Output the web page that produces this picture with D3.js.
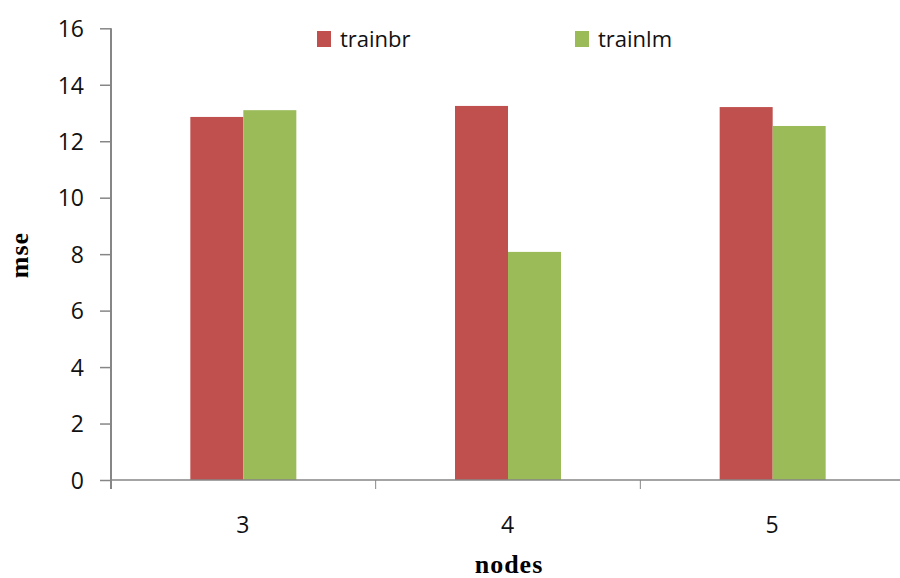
<!DOCTYPE html>
<html>
<head>
<meta charset="utf-8">
<script src="https://cdn.jsdelivr.net/npm/d3@7"></script>
<style>
  html, body { margin: 0; padding: 0; background: #fff; }
  svg { display: block; }
</style>
</head>
<body>
<svg id="chart" width="900" height="578"></svg>
<script>
// Mean squared error per hidden-node count, by training function
const nodes = ["3", "4", "5"];
const seriesNames = ["trainbr", "trainlm"];
const trainbr = [12.86, 13.25, 13.21];
const trainlm = [13.10, 8.08, 12.54];
const yTicks = [0, 2, 4, 6, 8, 10, 12, 14, 16];
const colors = ["#C0504D", "#9BBB59"];

const svg = d3.select("#chart");
const plotLeft = 111, plotRight = 905, plotTop = 28.3, plotBottom = 480;

const x = d3.scaleBand().domain(nodes).range([plotLeft, plotRight]).paddingInner(0).paddingOuter(0);
const x1 = d3.scaleBand().domain(seriesNames).range([0, 106]);
const y = d3.scaleLinear().domain([0, 16]).range([plotBottom, plotTop]);

const rows = nodes.map((n, i) => ({ n, values: [trainbr[i], trainlm[i]] }));
const groupOffset = (x.bandwidth() - 106) / 2;

// Bars
const g = svg.append("g");
g.selectAll("g.grp").data(rows).join("g")
  .attr("class", "grp")
  .attr("transform", d => `translate(${x(d.n) + groupOffset},0)`)
  .selectAll("rect").data(d => d.values.map((v, k) => ({ v, k })))
  .join("rect")
  .attr("x", d => x1(seriesNames[d.k]))
  .attr("width", x1.bandwidth())
  .attr("y", d => y(d.v))
  .attr("height", d => plotBottom - y(d.v))
  .attr("fill", d => colors[d.k]);

const axisColor = "#868686";
const tickFont = "'Open Sans', sans-serif";

// Y axis
const yAxis = svg.append("g").attr("transform", `translate(${plotLeft},0)`)
  .call(d3.axisLeft(y).tickValues(yTicks).tickSize(11).tickPadding(16).tickSizeOuter(0));
yAxis.select(".domain").remove();
yAxis.append("line").attr("x1", 0).attr("x2", 0).attr("y1", plotTop).attr("y2", plotBottom + 9)
  .attr("stroke", axisColor).attr("stroke-width", 2);
yAxis.selectAll(".tick line").attr("stroke", axisColor).attr("stroke-width", 1.5);
yAxis.selectAll(".tick text").attr("fill", "#111").style("font-family", tickFont)
  .style("font-size", "23px").attr("dy", "0.36em");

// X axis
const xAxis = svg.append("g").attr("transform", `translate(0,${plotBottom})`);
xAxis.append("line").attr("x1", plotLeft).attr("x2", plotRight).attr("y1", 0).attr("y2", 0)
  .attr("stroke", axisColor).attr("stroke-width", 1.5);
const boundaries = nodes.map(n => x(n)).concat([x(nodes[nodes.length - 1]) + x.bandwidth()]);
xAxis.selectAll("line.tk").data(boundaries.slice(1)).join("line")
  .attr("class", "tk")
  .attr("x1", d => d).attr("x2", d => d).attr("y1", 0).attr("y2", 9)
  .attr("stroke", axisColor).attr("stroke-width", 1);
xAxis.selectAll("text").data(nodes).join("text")
  .attr("x", d => x(d) + x.bandwidth() / 2 - 0.5)
  .attr("y", 53)
  .attr("text-anchor", "middle")
  .attr("fill", "#111")
  .style("font-family", tickFont).style("font-size", "23px")
  .text(d => d);

// Axis titles
svg.append("text")
  .attr("x", 509).attr("y", 573)
  .attr("text-anchor", "middle")
  .style("font-family", "'Liberation Serif', 'Times New Roman', serif")
  .style("font-weight", "bold").style("font-size", "26px").style("letter-spacing", "1px")
  .text("nodes");

svg.append("text")
  .attr("transform", "translate(28,255) rotate(-90)")
  .attr("text-anchor", "middle")
  .style("font-family", "'Liberation Serif', 'Times New Roman', serif")
  .style("font-weight", "bold").style("font-size", "26px").style("letter-spacing", "1px")
  .text("mse");

// Legend
const legendX = [317, 575];
const legend = svg.append("g");
seriesNames.forEach((name, k) => {
  legend.append("rect").attr("x", legendX[k]).attr("y", 31).attr("width", 14).attr("height", 16)
    .attr("fill", colors[k]);
  legend.append("text").attr("x", legendX[k] + 23).attr("y", 47)
    .attr("fill", "#111")
    .style("font-family", tickFont).style("font-size", "22px")
    .text(name);
});
</script>
</body>
</html>
